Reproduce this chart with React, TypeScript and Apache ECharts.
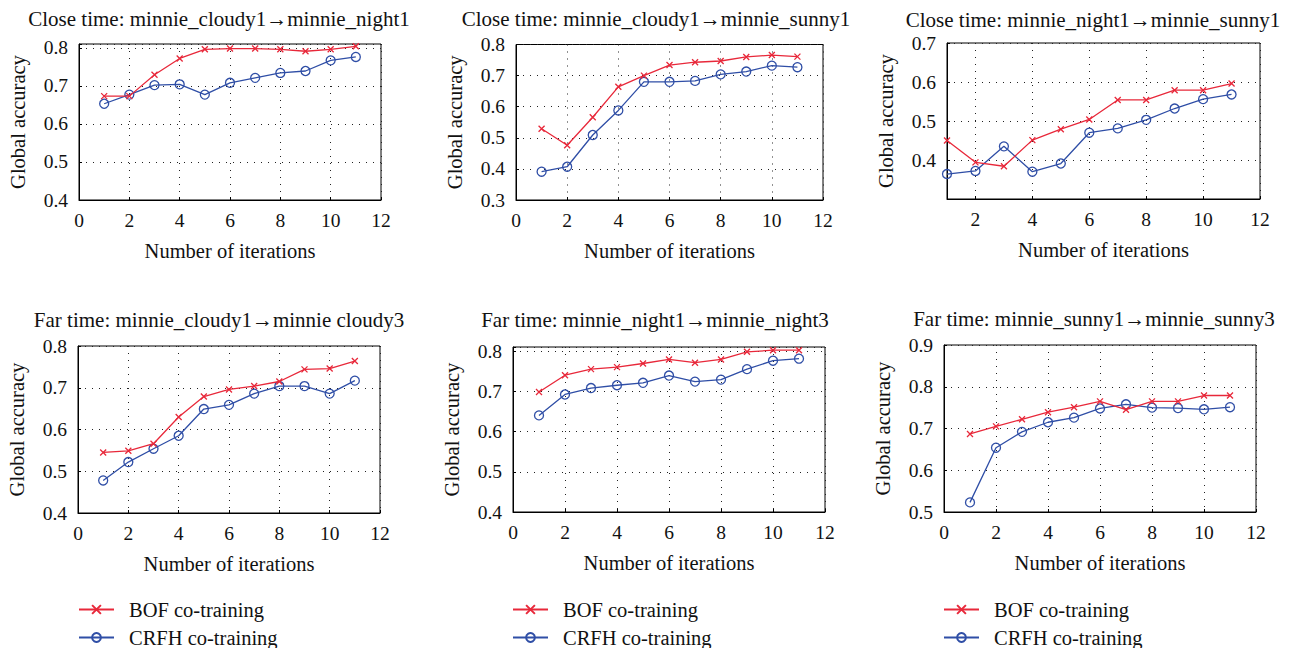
import React, { useEffect, useRef } from "react";
import * as echarts from "echarts";

// ---- data ----
const iterations = [1, 2, 3, 4, 5, 6, 7, 8, 9, 10, 11];

const bof1 = [0.673, 0.673, 0.729, 0.772, 0.796, 0.798, 0.798, 0.796, 0.791, 0.796, 0.804];
const crfh1 = [0.653, 0.677, 0.702, 0.704, 0.677, 0.708, 0.721, 0.734, 0.739, 0.767, 0.776];
const bof2 = [0.529, 0.476, 0.566, 0.664, 0.7, 0.734, 0.743, 0.747, 0.76, 0.766, 0.761];
const crfh2 = [0.391, 0.407, 0.509, 0.588, 0.68, 0.68, 0.683, 0.704, 0.713, 0.732, 0.727];
const bof3 = [0.45, 0.394, 0.384, 0.451, 0.479, 0.504, 0.554, 0.554, 0.579, 0.579, 0.596];
const crfh3 = [0.364, 0.372, 0.435, 0.37, 0.391, 0.47, 0.481, 0.503, 0.532, 0.556, 0.568];
const bof4 = [0.545, 0.549, 0.566, 0.63, 0.679, 0.696, 0.704, 0.715, 0.744, 0.746, 0.764];
const crfh4 = [0.478, 0.522, 0.554, 0.585, 0.649, 0.659, 0.686, 0.704, 0.704, 0.686, 0.717];
const bof5 = [0.698, 0.74, 0.755, 0.76, 0.769, 0.779, 0.771, 0.779, 0.798, 0.802, 0.802];
const crfh5 = [0.64, 0.692, 0.708, 0.715, 0.721, 0.739, 0.724, 0.729, 0.755, 0.776, 0.781];
const bof6 = [0.687, 0.705, 0.722, 0.739, 0.751, 0.765, 0.745, 0.765, 0.765, 0.779, 0.779];
const crfh6 = [0.523, 0.654, 0.692, 0.715, 0.726, 0.748, 0.758, 0.75, 0.749, 0.746, 0.751];

const bofSets = [bof1, bof2, bof3, bof4, bof5, bof6];
const crfhSets = [crfh1, crfh2, crfh3, crfh4, crfh5, crfh6];

const panelTitles = [
  "Close time: minnie_cloudy1\u2192minnie_night1",
  "Close time: minnie_cloudy1\u2192minnie_sunny1",
  "Close time: minnie_night1\u2192minnie_sunny1",
  "Far time: minnie_cloudy1\u2192minnie cloudy3",
  "Far time: minnie_night1\u2192minnie_night3",
  "Far time: minnie_sunny1\u2192minnie_sunny3",
];
const yMins = [0.4, 0.3, 0.3, 0.4, 0.4, 0.5];
const yMaxs = [0.81, 0.8, 0.7, 0.8, 0.81, 0.9];
const xMins = [0, 0, 1, 0, 0, 0];
const xMax = 12;
const xTickValues = [2, 4, 6, 8, 10, 12];
const seriesNames = ["BOF co-training", "CRFH co-training"];
const xName = "Number of iterations";
const yName = "Global accuracy";

// ---- layout ----
const gridRects = [
  { left: 79, top: 44, width: 302, height: 156 },
  { left: 516, top: 44.5, width: 307, height: 155.5 },
  { left: 947, top: 43, width: 313, height: 156 },
  { left: 78, top: 346, width: 302, height: 167 },
  { left: 513, top: 347, width: 312, height: 165 },
  { left: 944, top: 345, width: 312, height: 167 },
];
const titlePos = [
  { x: 219, y: 19 },
  { x: 656, y: 19 },
  { x: 1093, y: 20 },
  { x: 219, y: 320 },
  { x: 655, y: 320 },
  { x: 1094, y: 319 },
];
const legendLefts = [78, 512, 943];

const FONT = "'Liberation Serif', 'Times New Roman', serif";
const RED = "#e8283a";
const BLUE = "#2f4ea6";
const CROSS = "path://M0,0L10,10M10,0L0,10";

function buildOption() {
  const grid = gridRects.map((r) => ({
    ...r,
    show: true,
    borderColor: "#000",
    borderWidth: 1,
    backgroundColor: "transparent",
    containLabel: false,
    outerBoundsMode: "none",
  }));

  const xAxis = gridRects.map((_, i) => {
    const base: any = {
      type: "value",
      gridIndex: i,
      min: xMins[i],
      max: xMax,
      name: xName,
      nameLocation: "middle",
      nameGap: 40,
      nameMoveOverlap: false,
      nameTextStyle: { fontFamily: FONT, fontSize: 20.5, color: "#111" },
      axisLine: { show: true, onZero: false, lineStyle: { color: "#000", width: 1 } },
      axisTick: { show: true, inside: true, length: 3, lineStyle: { color: "#000" } },
      axisLabel: { fontFamily: FONT, fontSize: 19.5, color: "#111", margin: 10 },
      splitLine: { show: true, lineStyle: { color: "#222", width: 1, type: [1, 6] } },
    };
    if (xMins[i] % 2 === 0) {
      base.interval = 2;
    } else {
      base.axisTick.customValues = xTickValues;
      base.axisLabel.customValues = xTickValues;
    }
    return base;
  });

  const yAxis = gridRects.map((_, i) => ({
    type: "value",
    gridIndex: i,
    min: yMins[i],
    max: yMaxs[i],
    interval: 0.1,
    name: yName,
    nameLocation: "middle",
    nameGap: 51,
    nameMoveOverlap: false,
    nameTextStyle: { fontFamily: FONT, fontSize: 20.5, color: "#111" },
    axisLine: { show: true, onZero: false, lineStyle: { color: "#000", width: 1 } },
    axisTick: { show: true, inside: true, length: 3, lineStyle: { color: "#000" } },
    axisLabel: {
      fontFamily: FONT,
      fontSize: 19.5,
      color: "#111",
      margin: 11,
      showMinLabel: i !== 2,
      formatter: (v: number) =>
        Math.abs(v * 10 - Math.round(v * 10)) < 1e-6 ? v.toFixed(1) : "",
    },
    splitLine: { show: true, lineStyle: { color: "#222", width: 1, type: [1, 6] } },
  }));

  const series: any[] = [];
  gridRects.forEach((_, i) => {
    series.push({
      type: "line",
      name: seriesNames[0],
      xAxisIndex: i,
      yAxisIndex: i,
      data: iterations.map((x, j) => [x, bofSets[i][j]]),
      symbol: CROSS,
      symbolSize: 6,
      lineStyle: { color: RED, width: 1.3 },
      itemStyle: { color: RED, borderColor: RED, borderWidth: 1.3 },
      emphasis: { disabled: true },
      z: 3,
    });
    series.push({
      type: "line",
      name: seriesNames[1],
      xAxisIndex: i,
      yAxisIndex: i,
      data: iterations.map((x, j) => [x, crfhSets[i][j]]),
      symbol: "circle",
      symbolSize: 9,
      lineStyle: { color: BLUE, width: 1.3 },
      itemStyle: { color: "rgba(0,0,0,0)", borderColor: BLUE, borderWidth: 1.3 },
      emphasis: { disabled: true },
      z: 2,
    });
  });

  const legend = legendLefts.map((left) => ({
    left,
    top: 599,
    padding: 0,
    orient: "vertical",
    itemWidth: 35,
    itemHeight: 11,
    itemGap: 7,
    selectedMode: false,
    data: seriesNames,
    textStyle: {
      fontFamily: FONT,
      fontSize: 20.5,
      color: "#111",
      lineHeight: 20,
      padding: [0, 0, 0, 10],
    },
  }));

  const graphic = panelTitles.map((t, i) => ({
    type: "text",
    x: titlePos[i].x,
    y: titlePos[i].y,
    style: {
      text: t,
      fontFamily: FONT,
      fontSize: 21,
      fill: "#111",
      align: "center",
      verticalAlign: "middle",
    },
  }));

  return {
    animation: false,
    backgroundColor: "#fff",
    grid,
    xAxis,
    yAxis,
    series,
    legend,
    graphic,
    tooltip: { show: false },
  };
}

export default function App() {
  const ref = useRef<HTMLDivElement>(null);
  useEffect(() => {
    if (!ref.current) return;
    const chart = echarts.init(ref.current, undefined, { renderer: "svg" });
    chart.setOption(buildOption() as any);
    return () => chart.dispose();
  }, []);
  return (
    <div
      ref={ref}
      style={{ position: "absolute", left: 0, top: 0, width: 1290, height: 648 }}
    />
  );
}
